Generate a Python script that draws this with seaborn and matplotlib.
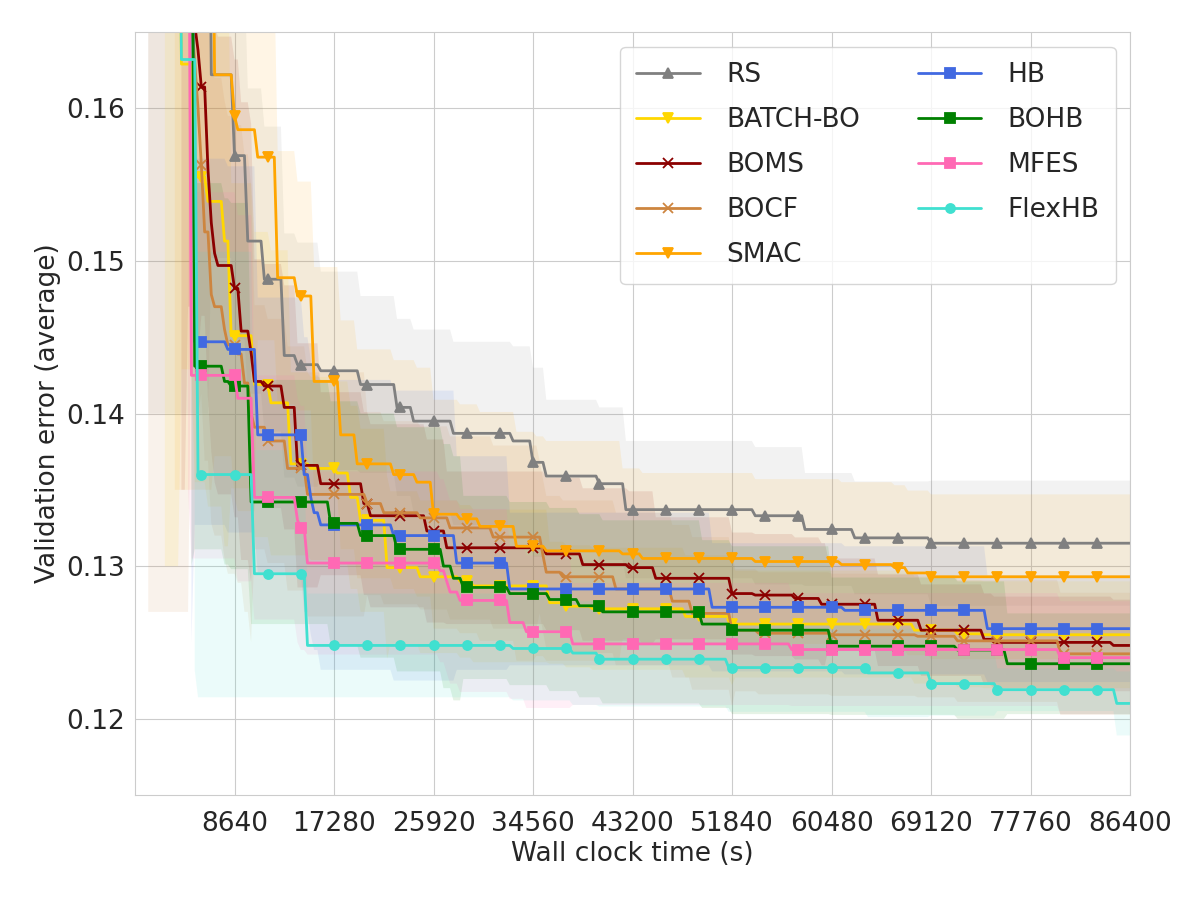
import numpy as np
import matplotlib
matplotlib.use("Agg")
import matplotlib.pyplot as plt
import seaborn as sns

# step breakpoints (time in s, averaged validation error)
rs_t = [0, 6590, 8360, 9580, 11150, 12890, 13850, 16030, 19510, 22560, 24130, 27520,
        32580, 34300, 35620, 40150, 42590, 53650, 58010, 62360, 68900]
rs_v = [0.185, 0.1622, 0.1569, 0.1513, 0.1488, 0.1438, 0.1432, 0.1428, 0.1419, 0.1404, 0.1395,
        0.1387, 0.1382, 0.1368, 0.1359, 0.1354, 0.1337, 0.1333, 0.1324, 0.13185, 0.1315]
rs_sd_t = [0, 6590, 9580, 12890, 16000, 19500, 24000, 32580, 35600, 42590, 58010, 68900]
rs_sd = [0.045, 0.012, 0.010, 0.008, 0.0065, 0.0058, 0.0060, 0.0062, 0.0050, 0.0045, 0.0037, 0.0041]

batch_t = [0, 3920, 4960, 6270, 7490, 8190, 10100, 11670, 13410, 15000, 17300, 18700, 19510,
           21780, 24740, 28050, 29090, 35890, 37370, 39540, 47640, 51560, 67680, 71160, 73510]
batch_v = [0.185, 0.1629, 0.1555, 0.1539, 0.1513, 0.1451, 0.1419, 0.1407, 0.1367, 0.1364, 0.1361,
           0.1345, 0.1330, 0.1299, 0.1293, 0.1290, 0.1287, 0.1276, 0.12737, 0.1272, 0.1267,
           0.1262, 0.1258, 0.12556, 0.1255]
batch_sd_t = [0, 3920, 8190, 13410, 22000, 36000, 52000]
batch_sd = [0.055, 0.02, 0.01, 0.006, 0.005, 0.004, 0.0035]

boms_t = [0, 4600, 4900, 5200, 5500, 5750, 6050, 6350, 6650, 7000, 8500, 8950, 9800, 10300,
          11000, 12890, 13900, 16110, 19680, 20290, 25080, 26910, 35620, 38850, 42770, 44940,
          51820, 53650, 57140, 59400, 64450, 68200, 73690, 74380, 84840]
boms_v = [0.185, 0.1670, 0.1655, 0.1638, 0.1625, 0.1614, 0.1560, 0.1525, 0.1505, 0.1497, 0.1482,
          0.1454, 0.1440, 0.1421, 0.1418, 0.1404, 0.1366, 0.1354, 0.1341, 0.1333, 0.1323, 0.1312,
          0.1308, 0.1301, 0.1299, 0.1292, 0.1282, 0.1281, 0.12788, 0.1275, 0.12645, 0.1258,
          0.1252, 0.1250, 0.1248]
boms_sd_t = [0, 4600, 5750, 10300, 16110, 26910, 45000, 60000]
boms_sd = [0.05, 0.02, 0.015, 0.008, 0.006, 0.005, 0.004, 0.003]

bocf_t = [0, 4700, 5000, 5300, 5750, 6010, 6450, 6880, 7600, 8010, 8700, 9300, 9800, 10100,
          11500, 12980, 14720, 20030, 21510, 24740, 27350, 30830, 35190, 35450, 36930, 41630,
          46600, 48250, 51740, 53910, 60360, 67940, 71160, 80130]
bocf_v = [0.185, 0.1660, 0.1630, 0.1600, 0.1563, 0.1519, 0.1478, 0.1470, 0.1455, 0.1445, 0.1439,
          0.1420, 0.1400, 0.1391, 0.1382, 0.1364, 0.1347, 0.1341, 0.1335, 0.13316, 0.1325,
          0.1319, 0.1307, 0.1296, 0.1293, 0.1285, 0.1277, 0.1269, 0.1258, 0.1256, 0.1255,
          0.1254, 0.1251, 0.12425]
bocf_sd_t = [0, 4700, 5750, 10100, 20000, 35000, 52000]
bocf_sd = [0.058, 0.02, 0.015, 0.008, 0.006, 0.005, 0.004]

smac_t = [0, 6710, 8500, 8900, 10450, 12370, 14110, 15500, 17770, 19070, 22380, 24390, 25780,
          27960, 29900, 33100, 35620, 42160, 43900, 53740, 61140, 65670, 67070, 68980]
smac_v = [0.185, 0.1622, 0.1595, 0.1586, 0.1568, 0.1489, 0.1477, 0.1421, 0.1386, 0.1367, 0.1360,
          0.1355, 0.1334, 0.1331, 0.1326, 0.1313, 0.1310, 0.1308, 0.1305, 0.1303, 0.1301,
          0.1299, 0.12955, 0.1293]
smac_sd_t = [0, 6710, 10450, 12370, 14110, 34800, 42160, 53740]
smac_sd = [0.05, 0.025, 0.012, 0.0083, 0.0075, 0.0072, 0.0056, 0.0054]

hb_t = [0, 5140, 8010, 10450, 14600, 15000, 15500, 15850, 22380, 27780, 32400, 49910, 61490, 73770]
hb_v = [0.185, 0.1447, 0.1442, 0.1386, 0.1360, 0.1345, 0.1335, 0.1327, 0.1320, 0.1302, 0.1285,
        0.1273, 0.1271, 0.1259]
hb_sd_t = [0, 5140, 10450, 15850, 27780, 32400, 50000, 73770]
hb_sd = [0.06, 0.012, 0.009, 0.0095, 0.0070, 0.0050, 0.0042, 0.0035]

bohb_t = [0, 5140, 7700, 8100, 10020, 16900, 19340, 22470, 26650, 27500, 28400, 32490, 35890,
          38410, 40590, 49210, 51650, 60360, 71420, 75520]
bohb_v = [0.185, 0.1431, 0.1421, 0.1418, 0.1342, 0.1328, 0.1320, 0.1311, 0.1300, 0.1292, 0.1286,
          0.1282, 0.12781, 0.1274, 0.1270, 0.1262, 0.1258, 0.12475, 0.1245, 0.1236]
bohb_sd_t = [0, 5140, 10020, 28400, 49210, 60360, 75520]
bohb_sd = [0.055, 0.012, 0.008, 0.006, 0.0055, 0.0045, 0.0033]

mfes_t = [0, 4880, 8880, 10190, 13900, 14300, 14810, 26300, 26800, 27300, 28000, 32310, 33710,
          37800, 56960, 80130]
mfes_v = [0.185, 0.1425, 0.1410, 0.1345, 0.1330, 0.1325, 0.1302, 0.1297, 0.1290, 0.1283, 0.12775,
          0.1263, 0.1257, 0.1249, 0.12453, 0.1240]
mfes_sd_t = [0, 4880, 10190, 14810, 32310, 37800, 56960]
mfes_sd = [0.05, 0.012, 0.008, 0.006, 0.005, 0.004, 0.0037]

flex_t = [0, 3900, 5300, 10100, 14800, 32600, 37800, 40100, 51500, 63640, 69000, 74650, 85000]
flex_v = [0.185, 0.1632, 0.1360, 0.1295, 0.1248, 0.1246, 0.1243, 0.1239, 0.12335, 0.1230,
          0.1223, 0.1219, 0.1210]
flex_sd_t = [0, 3900, 5300, 10100, 14800, 40100, 51500, 69000, 74650, 85000]
flex_sd = [0.0614, 0.040, 0.0146, 0.0081, 0.0034, 0.0031, 0.0029, 0.0021, 0.0014, 0.0021]

# time (s) from which each method's spread is shown
band_start = [1300, 2600, 4300, 1300, 3500, 5140, 5140, 4880, 5300]

methods = ["RS", "BATCH-BO", "BOMS", "BOCF", "SMAC", "HB", "BOHB", "MFES", "FlexHB"]
colors = ["grey", "gold", "darkred", "peru", "orange", "royalblue", "green", "hotpink", "turquoise"]
markers = ["^", "v", "x", "x", "v", "s", "s", "s", "o"]
xticks = [8640, 17280, 25920, 34560, 43200, 51840, 60480, 69120, 77760, 86400]
yticks = [0.12, 0.13, 0.14, 0.15, 0.16]


def step_at(grid, bt, bv):
    # value of the step curve at each time of the evaluation grid
    idx = np.searchsorted(bt, grid, side="right") - 1
    return np.asarray(bv)[idx]


def plot_curves():
    sns.set_style("whitegrid")
    plt.rcParams["font.family"] = ["DejaVu Sans"]
    plt.rcParams["font.size"] = 19

    fig, ax = plt.subplots(figsize=(12, 9), dpi=100)
    fig.subplots_adjust(left=0.1125, right=0.9417, top=0.9644, bottom=0.1167)

    t = np.arange(0, 86401, 288)
    series = [(rs_t, rs_v, rs_sd_t, rs_sd), (batch_t, batch_v, batch_sd_t, batch_sd),
              (boms_t, boms_v, boms_sd_t, boms_sd), (bocf_t, bocf_v, bocf_sd_t, bocf_sd),
              (smac_t, smac_v, smac_sd_t, smac_sd), (hb_t, hb_v, hb_sd_t, hb_sd),
              (bohb_t, bohb_v, bohb_sd_t, bohb_sd), (mfes_t, mfes_v, mfes_sd_t, mfes_sd),
              (flex_t, flex_v, flex_sd_t, flex_sd)]

    # shaded spread first
    for (bt, bv, st, sv), c, b0 in zip(series, colors, band_start):
        m = step_at(t, bt, bv)
        s = step_at(t, st, sv)
        keep = t >= b0 - 288
        ax.fill_between(t[keep], (m - s)[keep], (m + s)[keep], color=c, alpha=0.1, lw=0)

    for (bt, bv, st, sv), name, c, mk in zip(series, methods, colors, markers):
        m = step_at(t, bt, bv)
        sns.lineplot(x=t, y=m, ax=ax, color=c, marker=mk, markevery=slice(0, 300, 10),
                     markersize=6.5, markeredgecolor=c, markeredgewidth=1.3,
                     lw=2, label=name, errorbar=None)

    ax.set_xlim(0, 86400)
    ax.set_ylim(0.115, 0.165)
    ax.set_xticks(xticks)
    ax.set_xticklabels([str(x) for x in xticks], fontsize=19)
    ax.set_yticks(yticks)
    ax.set_yticklabels(["%.2f" % y for y in yticks], fontsize=19)
    ax.tick_params(axis="x", pad=8)
    ax.set_xlabel("Wall clock time (s)", fontsize=19, labelpad=3)
    ax.set_ylabel("Validation error (average)", fontsize=19)

    ax.legend(ncol=2, loc="upper right", fontsize=19, handlelength=2.4,
              handletextpad=1.0, columnspacing=2.2, labelspacing=0.72,
              borderpad=0.6, borderaxespad=0.55)
    fig.savefig("out.png", dpi=100)


if __name__ == "__main__":
    plot_curves()
